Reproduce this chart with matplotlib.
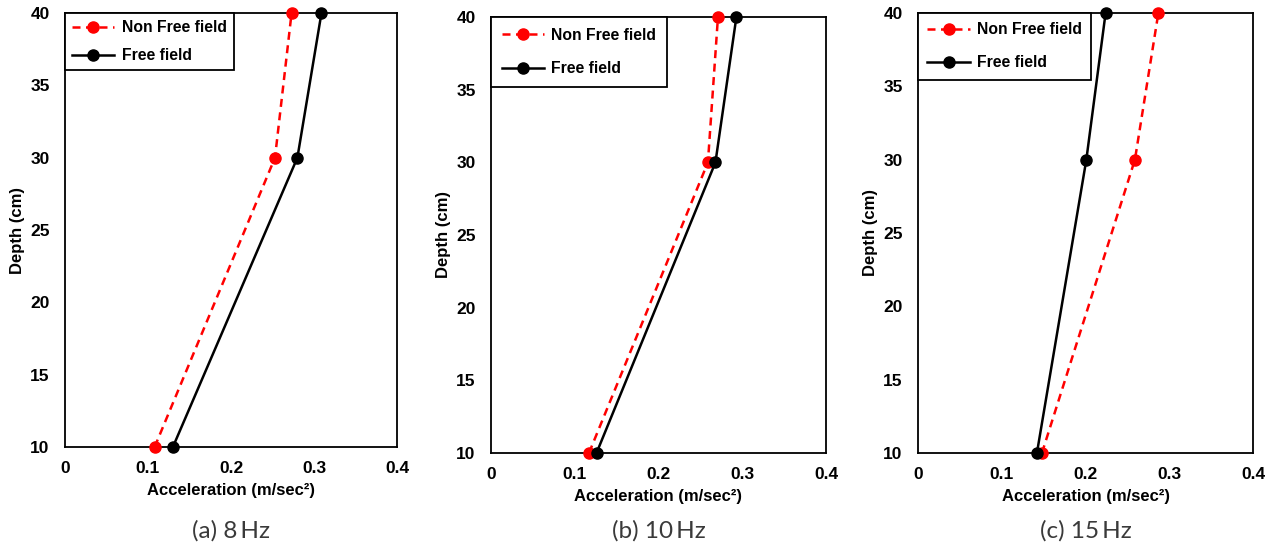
import numpy as np
import matplotlib.pyplot as plt

# depth levels (cm)
depth = [10, 30, 40]

# acceleration (m/sec^2)
nonfree_8 = [0.108, 0.253, 0.273]
free_8 = [0.130, 0.280, 0.309]

nonfree_10 = [0.117, 0.259, 0.271]
free_10 = [0.126, 0.268, 0.293]

nonfree_15 = [0.148, 0.259, 0.287]
free_15 = [0.142, 0.201, 0.224]

captions = ["(a) 8\u2009Hz", "(b) 10\u2009Hz", "(c) 15\u2009Hz"]
xticks = [0, 0.1, 0.2, 0.3, 0.4]
xticklabels = ["0", "0.1", "0.2", "0.3", "0.4"]
yticks = [10, 15, 20, 25, 30, 35, 40]

plt.rcParams["font.family"] = ["Liberation Sans", "DejaVu Sans"]

W, H = 1278, 551
fig = plt.figure(figsize=(W / 100, H / 100), dpi=100)

# axes boxes in pixels: left, right, top, bottom
boxes = [(65, 397, 13, 447), (491, 826, 17, 453), (918, 1253, 13, 453)]
legend_spacing = [0.85, 1.15, 1.15]
legend_pad = [0.45, 0.7, 0.6]
series = [(nonfree_8, free_8), (nonfree_10, free_10), (nonfree_15, free_15)]

for i, (l, r, t, b) in enumerate(boxes):
    ax = fig.add_axes([l / W, 1 - b / H, (r - l) / W, (b - t) / H])
    nf, ff = series[i]
    ax.plot(nf, depth, color="red", linestyle=(0, (3.2, 2.2)), linewidth=1.8,
            marker="o", markersize=8, label="Non Free field", clip_on=False, zorder=3)
    ax.plot(ff, depth, color="black", linestyle="-", linewidth=1.8,
            marker="o", markersize=8, label="Free field", clip_on=False, zorder=4)
    ax.set_xlim(0, 0.4)
    ax.set_ylim(10, 40)
    ax.set_xticks(xticks)
    ax.set_xticklabels(xticklabels)
    ax.set_yticks(yticks)
    ax.tick_params(length=0, labelsize=12.5)
    ax.tick_params(axis="y", pad=11)
    ax.tick_params(axis="x", pad=10)
    for lab in ax.get_xticklabels() + ax.get_yticklabels():
        lab.set_fontweight("bold")
    for s in ax.spines.values():
        s.set_linewidth(1.3)
        s.set_color("black")
    ax.set_xlabel("Acceleration (m/sec²)", fontsize=12,
                  fontweight="bold", labelpad=5)
    ax.set_ylabel("Depth (cm)", fontsize=12, fontweight="bold", labelpad=4)
    leg = ax.legend(loc="upper left", bbox_to_anchor=(0, 1), borderaxespad=0,
                    fancybox=False, edgecolor="black", framealpha=1,
                    prop={"weight": "bold", "size": 11.3},
                    handlelength=2.7, handletextpad=0.45,
                    labelspacing=legend_spacing[i], borderpad=legend_pad[i])
    leg.get_frame().set_linewidth(1.3)
    fig.text((l + r) / 2 / W, 1 - 531 / H, captions[i], ha="center",
             va="center", fontsize=17.5, fontweight="normal",
             family=["Lato", "DejaVu Sans"], color="#3a3a3a")

fig.savefig("out.png", dpi=100)
